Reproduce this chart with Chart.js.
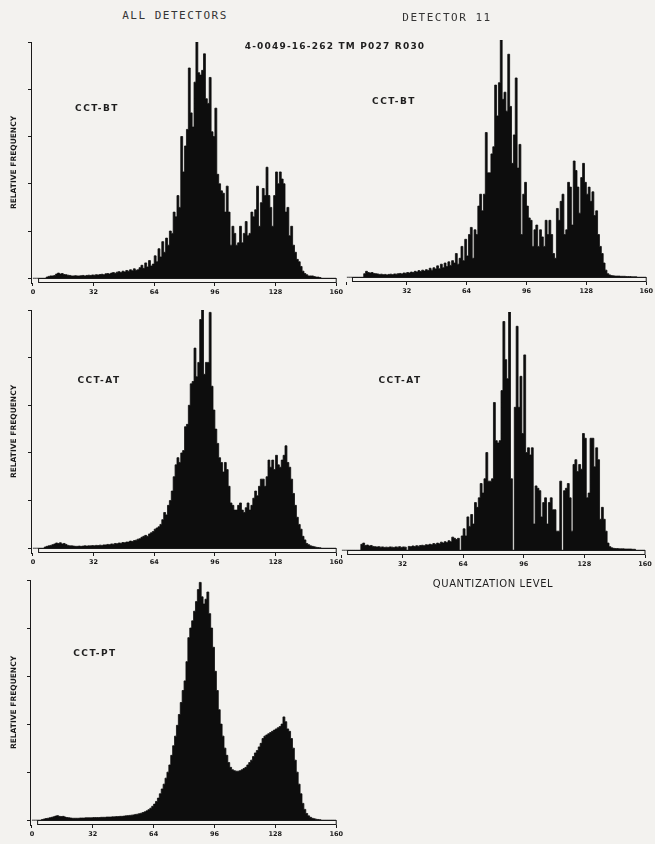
<!DOCTYPE html>
<html>
<head>
<meta charset="utf-8">
<script src="https://cdn.jsdelivr.net/npm/chart.js@4.4.1/dist/chart.umd.min.js"></script>
<style>
  body { margin: 0; background: #f3f2ef; }
  #page { position: relative; width: 655px; height: 844px; overflow: hidden; background: #f3f2ef; color: #1c1c1c; font-family: "DejaVu Sans", sans-serif; }
  canvas { position: absolute; }
  .txt { position: absolute; transform: translate(-50%, -50%); white-space: nowrap; z-index: 2; opacity: 0.99; }
  .head { font-family: "DejaVu Sans Mono", monospace; font-size: 11px; letter-spacing: 1.5px; color: #333; }
  .run { font-weight: bold; font-size: 9px; letter-spacing: 1.2px; }
  .tag { font-weight: bold; font-size: 9px; letter-spacing: 1.5px; }
  .xlab { font-size: 10px; letter-spacing: 0.6px; }
</style>
</head>
<body>
<div id="page">
  <div class="txt head" style="left:175px; top:15px;">ALL DETECTORS</div>
  <div class="txt head" style="left:447px; top:17px;">DETECTOR 11</div>
  <div class="txt run" style="left:335px; top:46px;">4-0049-16-262 TM P027 R030</div>

  <canvas id="btAll" width="345" height="270" style="left:0; top:30px;"></canvas>
  <canvas id="btDet" width="315" height="271" style="left:340px; top:28px;"></canvas>
  <canvas id="atAll" width="345" height="272" style="left:0; top:298px;"></canvas>
  <canvas id="atDet" width="320" height="272" style="left:335px; top:300px;"></canvas>
  <canvas id="ptAll" width="345" height="274" style="left:0; top:568px;"></canvas>

  <div class="txt tag" style="left:97px; top:108px;">CCT-BT</div>
  <div class="txt tag" style="left:394px; top:101px;">CCT-BT</div>
  <div class="txt tag" style="left:99px; top:380px;">CCT-AT</div>
  <div class="txt tag" style="left:400px; top:380px;">CCT-AT</div>
  <div class="txt tag" style="left:95px; top:653px;">CCT-PT</div>
  <div class="txt xlab" style="left:493px; top:583px;">QUANTIZATION LEVEL</div>
</div>

<script>
// quantization levels 0..159, one histogram step per level
const levels = Array.from({ length: 160 }, (_, i) => i);
const xTicks = [0, 32, 64, 96, 128, 160];
const yTicks = [0, 20, 40, 60, 80, 100];

// relative frequency per level (tallest level = 100)
const btAll = [
  0, 0, 0, 0, 0, 0, 0, 0, 0.5, 0.8,
  1, 1, 1.2, 1.8, 2.2, 1.8, 2, 1.6, 1.5, 1.3,
  1.2, 1, 1, 1.1, 1, 1, 1.1, 1.2, 1, 1.2,
  1.3, 1.2, 1.4, 1.3, 1.5, 1.4, 1.6, 1.7, 1.5, 1.9,
  2, 1.8, 2.2, 2.4, 2.1, 2.6, 2.8, 2.4, 3, 2.7,
  3.3, 3, 3.6, 3.2, 4, 3.4, 3.6, 4.5, 5.5, 4.2,
  6.5, 4.8, 7.5, 5.2, 6, 9.5, 7, 12.5, 9, 15.5,
  11, 17, 14, 20, 19, 28, 26, 35, 30, 60,
  45, 56, 63, 89, 70, 64, 83, 100, 87, 86,
  88, 95, 76, 74, 85, 62, 60, 72, 44, 40,
  37, 36, 28, 39, 28, 14, 22, 19, 14, 15,
  22, 15, 19, 24, 18, 19, 28, 26, 29, 39,
  22, 32, 38, 35, 47, 35, 30, 22, 35, 45,
  40, 45, 42, 40, 28, 30, 18, 22, 14, 11,
  8, 7, 5, 3, 2, 1.5, 1, 1, 1, 0.7,
  0.5, 0.5, 0.3, 0, 0, 0, 0, 0, 0, 0
];

const btDet = [
  0, 0, 0, 0, 0, 0, 0, 0, 0, 0,
  1.5, 2.5, 2, 1.8, 2, 1.6, 1.5, 1.4, 1.2, 1.3,
  1.1, 1.2, 1, 1.2, 1.3, 1.1, 1.4, 1.3, 1.5, 1.6,
  1.4, 1.8, 1.7, 2, 1.8, 2.2, 2, 2.5, 2.2, 2.8,
  2.4, 3, 2.6, 3.2, 2.8, 3.8, 3, 4, 3.5, 4.8,
  3.6, 5.5, 4, 6, 4.5, 6.5, 5, 7, 6, 10,
  5.5, 8, 13, 7, 16, 9, 18, 21, 8, 20,
  18, 30, 35, 28, 35, 61, 44, 44, 52, 55,
  81, 68, 82, 100, 75, 78, 70, 94, 72, 48,
  60, 84, 46, 56, 18, 35, 40, 30, 25, 24,
  13, 20, 22, 13, 20, 17, 13, 24, 18, 24,
  18, 10, 8, 29, 24, 32, 35, 18, 20, 40,
  38, 22, 49, 45, 38, 27, 42, 48, 40, 35,
  38, 32, 36, 26, 28, 18, 13, 10, 6, 3,
  1.5, 1, 0.7, 0.6, 0.5, 0.5, 0.5, 0.4, 0.4, 0.4,
  0.3, 0.3, 0.3, 0.2, 0.2, 0.2, 0, 0, 0, 0
];

const atAll = [
  0, 0, 0, 0, 0, 0, 0, 0.5, 0.8, 1,
  1.2, 1.5, 1.8, 2.2, 2, 2.3, 1.8, 2, 1.6, 1.2,
  1, 1, 0.9, 0.8, 0.8, 0.9, 0.8, 0.9, 1, 0.9,
  1, 1, 1.1, 1, 1.2, 1.1, 1.3, 1.2, 1.4, 1.4,
  1.6, 1.5, 1.8, 1.7, 2, 1.9, 2.2, 2.1, 2.4, 2.3,
  2.6, 2.6, 3, 2.8, 3.2, 3.4, 3.8, 4, 4.6, 5,
  5.4, 5, 6, 6.5, 7, 8, 8.5, 9, 10, 12,
  15, 14, 18, 20, 24, 30, 35, 38, 36, 40,
  41, 51, 52, 60, 69, 70, 84, 72, 78, 96,
  100, 73, 78, 78, 99, 68, 58, 50, 44, 38,
  36, 32, 36, 33, 26, 19, 18, 16, 16, 18,
  19, 16, 15, 17, 19, 16, 18, 21, 24, 22,
  26, 29, 29, 26, 30, 37, 34, 37, 33, 39,
  35, 34, 37, 39, 43, 36, 34, 29, 23, 18,
  13, 10, 8, 5, 3.5, 2, 1.5, 1, 0.8, 0.6,
  0.4, 0.3, 0.2, 0, 0, 0, 0, 0, 0, 0
];

const atDet = [
  0, 0, 0, 0, 0, 0, 0, 0, 0, 0,
  0, 2.5, 3, 2, 2.2, 1.8, 2, 1.6, 1.5, 1.4,
  1.5, 1.3, 1.4, 1.2, 1.3, 1.2, 1.4, 1.3, 1.2, 1.4,
  1.3, 1.5, 1.2, 1.4, 1.3, 0, 1.6, 1.5, 1.8, 1.6,
  1.9, 1.7, 2, 2.1, 1.9, 2.3, 2.2, 2.5, 2.3, 2.8,
  2.5, 3, 2.7, 3.4, 3, 3.6, 3.2, 4, 3.6, 5.5,
  5, 4.5, 5, 0, 6, 9, 6, 14, 10, 15,
  11, 20, 18, 22, 28, 24, 30, 41, 29, 29,
  30, 62, 46, 45, 46, 67, 96, 80, 72, 100,
  30, 0, 60, 94, 60, 73, 49, 82, 41, 43,
  40, 43, 11, 27, 26, 25, 14, 20, 22, 11,
  20, 22, 17, 17, 8, 8, 29, 0, 25, 26,
  28, 22, 8, 36, 38, 33, 36, 34, 49, 47,
  22, 24, 47, 47, 35, 43, 38, 13, 18, 13,
  8, 3, 1.5, 1, 0.8, 0.7, 0.7, 0.6, 0.6, 0.6,
  0.5, 0.5, 0.5, 0.5, 0.4, 0.4, 0, 0, 0, 0
];

const ptAll = [
  0, 0, 0, 0, 0, 0, 0.3, 0.5, 0.7, 0.8,
  1, 1.2, 1.4, 1.7, 1.9, 1.6, 1.5, 1.6, 1.3, 1.1,
  1, 0.9, 0.8, 0.8, 0.8, 0.8, 0.9, 0.9, 0.9, 1,
  1, 1, 1, 1.1, 1.1, 1.1, 1.1, 1.2, 1.2, 1.2,
  1.3, 1.3, 1.3, 1.4, 1.4, 1.5, 1.5, 1.6, 1.6, 1.7,
  1.8, 1.9, 2, 2.1, 2.2, 2.4, 2.5, 2.7, 2.9, 3.2,
  3.5, 3.9, 4.4, 5, 5.8, 6.7, 7.8, 9.2, 11, 13,
  15, 17.5, 20, 23, 27, 31, 35, 39.5, 44, 49,
  54, 58, 66, 76, 80, 83, 87, 91, 96, 99,
  93, 90, 92, 95, 86, 80, 72, 62, 54, 46,
  40, 35, 30, 27, 24, 22, 21, 20.6, 20.4, 20.4,
  20.6, 21, 21.5, 22, 23, 24, 25, 26.5, 28, 29,
  30.5, 32, 34, 35, 35.5, 36, 36.5, 37, 37.5, 38,
  38.5, 39, 40, 43, 41, 38, 37, 34, 30, 25,
  20, 15, 11, 7, 4.5, 2.8, 1.8, 1.2, 0.8, 0.6,
  0.4, 0.3, 0.2, 0, 0, 0, 0, 0, 0, 0
];

const ink = "#1a1a1a";

// thin open strip along the zero line, the plotter's base
const baseStrip = {
  id: "baseStrip",
  afterDatasetsDraw(chart) {
    const { ctx, chartArea, scales } = chart;
    const x0 = scales.x.getPixelForValue(3);
    const x1 = scales.x.getPixelForValue(160);
    const yTop = Math.round(scales.y.getPixelForValue(0)) + 0.5;
    const yBot = Math.round(chartArea.bottom) - 0.5;
    ctx.save();
    ctx.strokeStyle = ink;
    ctx.lineWidth = 1;
    ctx.strokeRect(x0, yTop, x1 - x0, yBot - yTop);
    ctx.restore();
  }
};

function makePanel(id, values, opt) {
  // each level holds its value from x = level to x = level + 1
  const points = values.map((v, i) => ({ x: levels[i], y: v }));
  points.push({ x: 160, y: values[values.length - 1] });

  return new Chart(document.getElementById(id), {
    type: "line",
    data: {
      datasets: [{
        data: points,
        stepped: "after",
        fill: "origin",
        backgroundColor: "#0d0d0d",
        borderColor: "#0d0d0d",
        borderWidth: 0.8,
        pointRadius: 0
      }]
    },
    options: {
      responsive: false,
      animation: false,
      layout: { padding: opt.pad },
      plugins: { legend: { display: false }, tooltip: { enabled: false } },
      scales: {
        x: {
          type: "linear",
          min: -1,
          max: 160,
          afterBuildTicks: (s) => { s.ticks = xTicks.map((v) => ({ value: v })); },
          afterFit: (s) => { s.height = 17; },
          border: { display: false },
          grid: { drawOnChartArea: false, drawTicks: true, tickLength: 3, color: ink },
          ticks: {
            color: ink,
            padding: 2,
            maxRotation: 0,
            autoSkip: false,
            font: { family: "DejaVu Sans", size: 6.5, weight: "bold" },
            callback: (v) => (opt.hideZero && v === 0 ? "" : String(v))
          }
        },
        y: {
          display: opt.yAxis,
          min: -2,
          max: 100,
          afterBuildTicks: (s) => { s.ticks = yTicks.map((v) => ({ value: v })); },
          afterFit: (s) => { s.width = opt.yWidth || 0; },
          border: { display: true, color: ink, width: 1 },
          grid: { drawOnChartArea: false, drawTicks: true, tickLength: 3, color: ink },
          ticks: { display: false },
          title: {
            display: true,
            text: "RELATIVE FREQUENCY",
            color: ink,
            padding: { top: 10, bottom: 0 },
            font: { family: "DejaVu Sans", size: 7.5, weight: "bold" }
          }
        }
      }
    },
    plugins: [baseStrip]
  });
}

makePanel("btAll", btAll, { yAxis: true, yWidth: 31, pad: { top: 12, right: 7, left: 0, bottom: 0 } });
makePanel("btDet", btDet, { yAxis: false, hideZero: true, pad: { top: 12, right: 8, left: 5, bottom: 0 } });
makePanel("atAll", atAll, { yAxis: true, yWidth: 31, pad: { top: 12, right: 7, left: 0, bottom: 0 } });
makePanel("atDet", atDet, { yAxis: false, hideZero: true, pad: { top: 12, right: 10, left: 5, bottom: 0 } });
makePanel("ptAll", ptAll, { yAxis: true, yWidth: 30, pad: { top: 12, right: 7, left: 0, bottom: 0 } });
</script>
</body>
</html>
